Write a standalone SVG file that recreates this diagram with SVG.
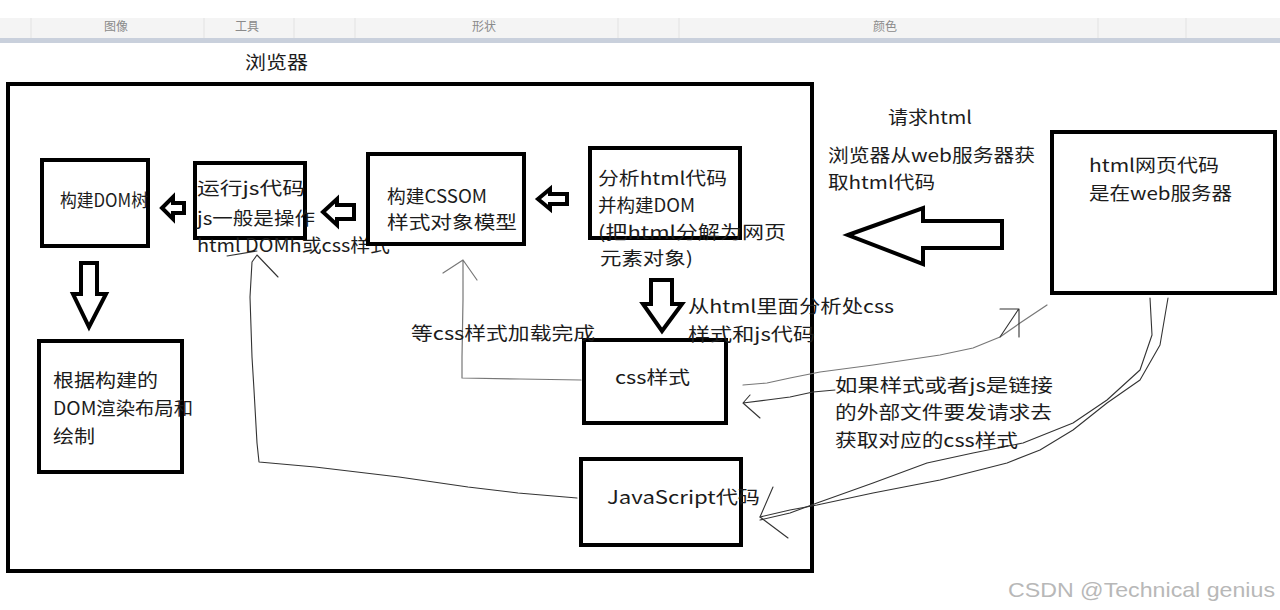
<svg xmlns="http://www.w3.org/2000/svg" width="1280" height="610" viewBox="0 0 1280 610">
<style>
.box{fill:#fff;stroke:#000;stroke-width:4}
.t{font-family:"Noto Sans CJK SC","Noto Sans",sans-serif;font-size:18px;fill:#1c1c1c}
.tb{font-family:"Noto Sans CJK SC",sans-serif;font-size:12px;fill:#8a8a8a}
.ha{fill:#fff;stroke:#000;stroke-width:4;stroke-linejoin:miter}
.ln{fill:none;stroke:#333;stroke-width:1.1;stroke-linecap:round;stroke-linejoin:round}
.lg{fill:none;stroke:#777;stroke-width:1.2;stroke-linecap:round;stroke-linejoin:round}
</style>
<rect width="1280" height="610" fill="#fff"/>
<g id="toolbar">
<rect x="0" y="18" width="1280" height="20" fill="#f4f4f4"/>
<rect x="0" y="38" width="1280" height="5" fill="#c9d0dc"/>
<g stroke="#e2e2e2" stroke-width="1">
<line x1="31" y1="18" x2="31" y2="38"/><line x1="204" y1="18" x2="204" y2="38"/><line x1="294" y1="18" x2="294" y2="38"/><line x1="355" y1="18" x2="355" y2="38"/><line x1="618" y1="18" x2="618" y2="38"/><line x1="679" y1="18" x2="679" y2="38"/><line x1="1098" y1="18" x2="1098" y2="38"/><line x1="1186" y1="18" x2="1186" y2="38"/>
</g>
<text class="tb" x="104" y="31">图像</text>
<text class="tb" x="235" y="31">工具</text>
<text class="tb" x="472" y="31">形状</text>
<text class="tb" x="873" y="31">颜色</text>
</g>
<g id="browser">
<rect x="8" y="84" width="804" height="487" fill="none" stroke="#000" stroke-width="4"/>
<text class="t" x="245" y="69" font-size="20" textLength="63" lengthAdjust="spacingAndGlyphs">浏览器</text>
</g>
<g id="connectors">
<polygon class="ha" points="162,208 173,197 173,203 184,203 184,213 173,213 173,219"/>
<polygon class="ha" points="323,212 337,199 337,205 354,205 354,219 337,219 337,225"/>
<polygon class="ha" points="538,199 550,189 550,194 567,194 567,204 550,204 550,209"/>
<polygon class="ha" points="81,263 97,263 97,294 106,294 89,327 73,294 81,294"/>
<polygon class="ha" points="651,280 672,280 672,304 682,304 662,331 643,304 651,304"/>
<polygon class="ha" points="848,235 923,208 923,221 1002,221 1002,248 923,248 923,264"/>
<path class="lg" d="M581,380 L520,379 L462,378 L462,357 L463,300 L463,260 M443,273 L463,260 L477,280"/>
<path class="ln" d="M577,498 L518,493 L468,487 L399,477 L315,467 L259,462 L257,443 L254,390 L252,357 L250,297 L252,262 L257,255 M227,256 L257,251 M257,255 L278,277"/>
<path class="lg" d="M743,385 L767,383 L790,378 L820,372 L873,365 L940,355 L973,348 L1000,337 L1020,323 L1047,305"/>
<path class="ln" d="M1000,337 L1018,310 M1000,309 L1019,309 L1019,337"/>
<path class="ln" d="M760,418 L743,403 L767,400 L790,397 L813,392 L835,390 M743,403 L750,395"/>
<path class="ln" d="M760,517 L790,510 L817,505 L873,493 L940,480 L1007,463 L1040,450 L1073,430 L1107,403 L1140,380 L1160,345 L1168,298"/>
<path class="ln" d="M760,520 L790,513 L817,503 L873,483 L927,463 L973,453 L1023,443 L1073,423 L1107,400 L1140,370 L1152,335 L1150,298"/>
<path class="ln" d="M773,487 L760,517 L788,538"/>
</g>
<g id="n-dom">
<rect class="box" x="42" y="160" width="106" height="86"/>
<text class="t" x="60" y="207" textLength="88" lengthAdjust="spacingAndGlyphs">构建DOM树</text>
</g>
<g id="n-js">
<rect class="box" x="195" y="163" width="110" height="75"/>
<text class="t" x="197" y="195" textLength="108" lengthAdjust="spacingAndGlyphs">运行js代码</text>
<text class="t" x="197" y="225" textLength="118" lengthAdjust="spacingAndGlyphs">js一般是操作</text>
<text class="t" x="197" y="252" textLength="193" lengthAdjust="spacingAndGlyphs">html DOMh或css样式</text>
</g>
<g id="n-cssom">
<rect class="box" x="368" y="154" width="156" height="90"/>
<text class="t" x="387" y="203" textLength="100" lengthAdjust="spacingAndGlyphs">构建CSSOM</text>
<text class="t" x="387" y="229" textLength="130" lengthAdjust="spacingAndGlyphs">样式对象模型</text>
</g>
<g id="n-parse">
<rect class="box" x="590" y="148" width="150" height="90"/>
<text class="t" x="598" y="185" textLength="129" lengthAdjust="spacingAndGlyphs">分析html代码</text>
<text class="t" x="598" y="212" textLength="97" lengthAdjust="spacingAndGlyphs">并构建DOM</text>
<text class="t" x="598" y="239" textLength="188" lengthAdjust="spacingAndGlyphs">(把html分解为网页</text>
<text class="t" x="600" y="265" textLength="93" lengthAdjust="spacingAndGlyphs">元素对象)</text>
</g>
<g id="n-render">
<rect class="box" x="39" y="341" width="143" height="131"/>
<text class="t" x="53" y="387" textLength="105" lengthAdjust="spacingAndGlyphs">根据构建的</text>
<text class="t" x="53" y="415" textLength="140" lengthAdjust="spacingAndGlyphs">DOM渲染布局和</text>
<text class="t" x="53" y="443" textLength="42" lengthAdjust="spacingAndGlyphs">绘制</text>
</g>
<g id="n-css">
<rect class="box" x="584" y="340" width="142" height="83"/>
<text class="t" x="615" y="384" textLength="75" lengthAdjust="spacingAndGlyphs">css样式</text>
</g>
<g id="n-jscode">
<rect class="box" x="581" y="459" width="160" height="86"/>
<text class="t" x="607" y="504" textLength="153" lengthAdjust="spacingAndGlyphs">JavaScript代码</text>
</g>
<g id="n-server">
<rect class="box" x="1052" y="132" width="223" height="161"/>
<text class="t" x="1089" y="172" textLength="130" lengthAdjust="spacingAndGlyphs">html网页代码</text>
<text class="t" x="1089" y="200" textLength="143" lengthAdjust="spacingAndGlyphs">是在web服务器</text>
</g>
<g id="labels">
<text class="t" x="411" y="340" textLength="184" lengthAdjust="spacingAndGlyphs">等css样式加载完成</text>
<text class="t" x="688" y="313" textLength="206" lengthAdjust="spacingAndGlyphs">从html里面分析处css</text>
<text class="t" x="688" y="341" textLength="127" lengthAdjust="spacingAndGlyphs">样式和js代码</text>
<text class="t" x="835" y="392" textLength="218" lengthAdjust="spacingAndGlyphs">如果样式或者js是链接</text>
<text class="t" x="835" y="419" textLength="217" lengthAdjust="spacingAndGlyphs">的外部文件要发请求去</text>
<text class="t" x="835" y="447" textLength="183" lengthAdjust="spacingAndGlyphs">获取对应的css样式</text>
<text class="t" x="888" y="124" textLength="84" lengthAdjust="spacingAndGlyphs">请求html</text>
<text class="t" x="828" y="162" textLength="207" lengthAdjust="spacingAndGlyphs">浏览器从web服务器获</text>
<text class="t" x="828" y="189" textLength="107" lengthAdjust="spacingAndGlyphs">取html代码</text>
</g>
<g id="watermark">
<text x="1008" y="597" font-family="Liberation Sans, Arial, sans-serif" font-size="21" fill="#b8b8b8" textLength="267" lengthAdjust="spacingAndGlyphs">CSDN @Technical genius</text>
</g>
</svg>
